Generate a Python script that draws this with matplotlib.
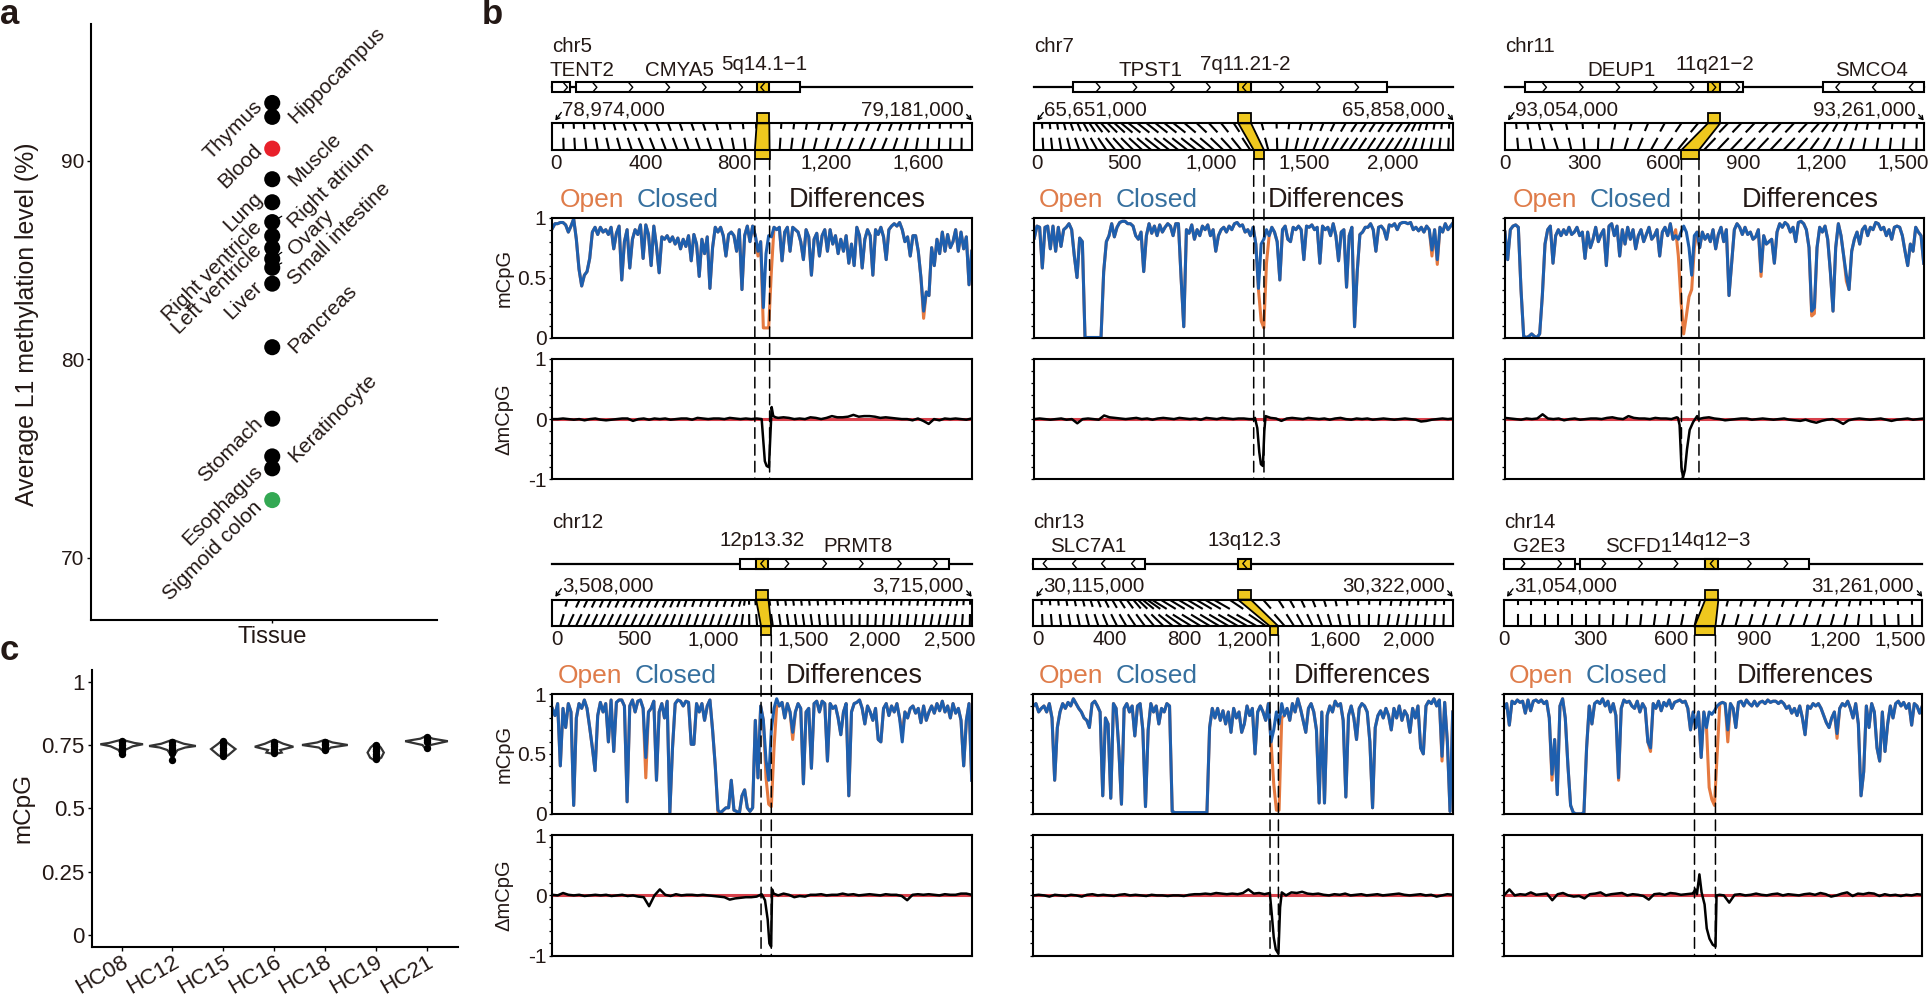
import numpy as np
import matplotlib
matplotlib.use("Agg")
import matplotlib.pyplot as plt
from matplotlib.patches import Polygon, Rectangle, ConnectionPatch
from matplotlib.transforms import ScaledTranslation

plt.rcParams['font.family'] = ['Liberation Sans', 'DejaVu Sans']

W, H = 1928, 999
SPAN_KB = 207
ORANGE = '#E5793F'
BLUE = '#1E5FAE'
YELLOW = '#EFC81E'
TEXT = '#231815'

# ---- panel a
tissues = ['Thymus', 'Hippocampus', 'Blood', 'Muscle', 'Lung', 'Right atrium', 'Right ventricle',
           'Left ventricle', 'Ovary', 'Small intestine', 'Liver', 'Pancreas', 'Stomach',
           'Keratinocyte', 'Esophagus', 'Sigmoid colon']
tissue_l1 = [92.9, 92.2, 90.6, 89.06, 87.9, 86.9, 86.2, 85.6, 85.05, 84.6, 83.8, 80.6, 77.0, 75.1, 74.5, 72.9]
tissue_color = ['k', 'k', '#E8202A', 'k', 'k', 'k', 'k', 'k', 'k', 'k', 'k', 'k', 'k', 'k', 'k', '#33A853']
tissue_side = ['l', 'r', 'l', 'r', 'l', 'r', 'l', 'l', 'r', 'r', 'l', 'r', 'l', 'r', 'l', 'l']
tissue_dy = [-1, -3.4, 1.7, -3.8, 7, -3.6, 11.6, 0.5, 6.6, -14, 0, -3, -2, -3, 0, -4]
tissue_leader = ['Right atrium', 'Right ventricle', 'Left ventricle', 'Ovary', 'Small intestine']

# ---- panel c
hc_names = ['HC08', 'HC12', 'HC15', 'HC16', 'HC18', 'HC19', 'HC21']
hc_y = [[.715, .73, .745, .753, .758, .77],
        [.69, .71, .73, .74, .746, .755, .77],
        [.70, .71, .734, .755, .77],
        [.715, .72, .73, .743, .755, .77],
        [.725, .74, .75, .76, .77],
        [.69, .70, .72, .74, .755],
        [.735, .75, .765, .775, .785]]
hc_w = [[.02, .06, .22, .42, .25, .02],
        [.01, .03, .1, .25, .46, .22, .01],
        [.01, .1, .24, .1, .01],
        [.02, .15, .12, .38, .18, .01],
        [.02, .12, .45, .15, .01],
        [.03, .11, .16, .10, .02],
        [.02, .08, .42, .12, .01]]
hc_pts = [[.715, .725, .735, .74, .75, .76, .765],
          [.69, .72, .73, .74, .75, .76],
          [.705, .72, .73, .74, .75, .76, .765],
          [.718, .725, .735, .745, .755, .76],
          [.73, .74, .75, .755, .76],
          [.695, .705, .715, .725, .735, .745, .75],
          [.74, .76, .77, .78]]

# ---- panel b, chr5
chr5_closed = [.91,.95,.95,.96,.96,.94,.88,.93,.99,.82,.57,.43,.52,.55,.66,.88,.92,.86,.92,.88,.90,.86,.92,.74,.87,.93,
               .48,.80,.90,.58,.82,.90,.86,.94,.66,.94,.86,.60,.93,.76,.54,.84,.82,.85,.80,.84,.78,.83,.74,.82,.76,.85,
               .64,.86,.78,.51,.82,.70,.84,.41,.75,.92,.88,.92,.85,.68,.86,.88,.85,.72,.90,.40,.85,.93,.80,.93,.85,.72,
               .80,.25,.70,.85,.84,.92,.90,.92,.64,.88,.92,.72,.92,.90,.88,.80,.65,.90,.84,.52,.82,.87,.68,.85,.90,.72,
               .90,.78,.85,.70,.82,.72,.85,.62,.78,.60,.92,.85,.58,.82,.90,.85,.52,.90,.86,.92,.84,.65,.90,.93,.95,.93,
               .96,.90,.80,.84,.68,.85,.85,.72,.50,.22,.38,.35,.75,.60,.82,.70,.88,.72,.86,.75,.80,.90,.72,.88,.74,.84,.44,.72]
chr5_open_idx = [77, 79, 80, 81, 82, 139]
chr5_open_val = [.68, .08, .08, .08, .55, .16]
chr5_delta = [0,0,.01,0,-.01,0,-.02,0,.01,-.01,-.02,-.01,0,.01,.01,-.03,0,.01,-.01,.01,0,.01,-.01,0,.01,.01,-.01,.02,.01,0,
              .01,.01,0,.02,.01,0,.01,0,.01,.02,0,0,.02,.03,.02,0,.01,0,.03,.02,0,.02,.05,.03,.03,.04,.07,.04,.05,.05,.04,
              .02,.03,.02,.01,0,0,-.02,.01,-.03,-.08,0,-.02,.01,0,.01,0,-.01,.01]
chr5_dip_x = [921, 928, 935, 943, 953, 959, 965, 972, 982]
chr5_dip_y = [0, -.35, -.7, -.78, -.8, -.3, .2, .05, .03]

# chr7
chr7_closed = [.83,.93,.92,.58,.92,.93,.74,.93,.72,.92,.76,.90,.92,.95,.90,.68,.50,.83,.80,0,0,0,0,0,0,0,.55,.80,.85,.95,.84,
               .92,.96,.97,.97,.95,.95,.93,.85,.82,.88,.55,.85,.95,.87,.93,.85,.94,.88,.92,.95,.93,.85,.95,.95,.50,.09,.90,
               .87,.94,.82,.90,.85,.93,.90,.94,.85,.90,.72,.85,.90,.92,.88,.93,.90,.95,.96,.93,.94,.88,.90,.85,.92,.78,.41,
               .78,.82,.90,.85,.92,.88,.80,.48,.90,.93,.82,.80,.92,.90,.93,.90,.65,.93,.92,.94,.90,.92,.62,.93,.90,.92,.85,
               .95,.85,.64,.88,.90,.42,.85,.92,.09,.55,.86,.88,.92,.92,.95,.90,.72,.92,.93,.90,.82,.94,.93,.95,.90,.95,.96,
               .96,.95,.96,.90,.92,.89,.92,.88,.93,.90,.73,.90,.65,.92,.88,.95,.90,.93,.96]
chr7_open_idx = [84, 85, 86, 87, 88, 149, 151]
chr7_open_val = [.40, .14, .08, .62, .85, .68, .61]
chr7_delta = [0,.01,0,-.01,0,.01,-.01,0,-.07,0,.01,0,-.01,.06,.03,.02,.01,0,.01,.02,0,.01,-.01,.01,.02,.01,0,.02,.01,0,.01,
              -.01,.02,.01,0,.02,.01,0,.01,.01,0,0,0,.03,.02,.01,-.03,.01,.02,.01,0,.02,.01,0,.01,-.01,.01,.02,0,-.01,.01,
              0,.01,-.01,0,.01,0,-.01,0,.01,0,-.01,-.04,-.03,-.01,0,.01,0,.01]
chr7_dip_x = [1226, 1239, 1250, 1259, 1270, 1278, 1285]
chr7_dip_y = [.02, -.15, -.55, -.75, -.78, -.2, .05]

# chr11
chr11_closed = [.88,.65,.90,.93,.94,.92,.40,.01,0,.01,.03,.01,0,.03,.35,.78,.90,.93,.62,.85,.90,.85,.90,.86,.92,.86,.88,.92,
                .85,.88,.66,.88,.75,.82,.92,.80,.86,.90,.60,.93,.95,.85,.93,.68,.90,.78,.92,.82,.90,.74,.85,.90,.80,.86,
                .92,.82,.85,.90,.68,.88,.92,.85,.95,.82,.85,.82,.88,.93,.88,.75,.52,.85,.88,.75,.88,.82,.86,.80,.90,.74,
                .86,.92,.80,.90,.35,.62,.90,.95,.92,.86,.92,.86,.88,.82,.84,.90,.55,.85,.78,.80,.82,.62,.88,.95,.92,.96,
                .94,.88,.92,.80,.96,.97,.95,.90,.75,.22,.25,.75,.92,.88,.93,.82,.55,.22,.75,.95,.85,.68,.52,.40,.72,.82,
                .88,.78,.90,.93,.85,.92,.90,.96,.95,.90,.92,.85,.90,.82,.92,.93,.92,.85,.72,.60,.78,.72,.92,.88,.85,.62]
chr11_open_idx = [64, 65, 66, 67, 68, 69, 70, 71, 96, 115, 116, 128]
chr11_open_val = [.90, .68, .30, .03, .18, .34, .40, .75, .51, .18, .20, .47]
chr11_delta = [.02,.01,0,-.01,.01,0,.01,.08,.01,0,.01,-.02,0,.01,-.01,0,.01,.01,0,.02,.03,.01,0,.05,.02,.01,.01,0,.02,.01,
               .01,0,.03,0,0,0,0,.02,.03,.01,0,-.02,-.01,0,.01,.01,-.01,0,.01,0,-.01,0,.01,-.01,-.02,-.03,-.01,-.04,-.06,
               -.03,-.01,0,-.03,-.08,-.02,0,.01,0,-.01,0,.01,-.01,-.03,-.01,0,.01,-.01,0,.01]
chr11_dip_x = [652, 658, 665, 671, 678, 686, 696, 709, 724]
chr11_dip_y = [.02, -.1, -.8, -.97, -.85, -.5, -.18, -.05, .05]

# chr12
chr12_closed = [.88,.82,.92,.40,.88,.72,.92,.85,.07,.80,.92,.88,.95,.88,.72,.55,.36,.82,.93,.85,.92,.60,.95,.52,.93,.95,.95,
                .90,.10,.90,.95,.85,.94,.95,.88,.47,.85,.88,.94,.28,.85,.92,.80,.94,.01,.55,.92,.95,.94,.90,.94,.93,.58,
                .58,.92,.85,.92,.78,.90,.95,.70,.40,.03,.01,.03,.05,.05,.28,.03,.02,0,.15,.20,.05,.02,.05,.78,.30,.90,.78,
                .45,.28,.70,.88,.96,.90,.93,.80,.92,.85,.68,.85,.92,.88,.25,.85,.88,.38,.92,.94,.85,.94,.92,.44,.92,.88,
                .90,.80,.66,.85,.92,.15,.85,.92,.93,.95,.88,.75,.90,.85,.78,.88,.62,.60,.88,.92,.82,.90,.85,.92,.80,.60,
                .85,.80,.88,.90,.84,.88,.76,.90,.78,.85,.90,.84,.92,.86,.94,.85,.90,.80,.92,.84,.88,.78,.40,.78,.92,.28]
chr12_open_idx = [35, 62, 63, 80, 81, 82, 83, 84, 90, 131]
chr12_open_val = [.30, .01, 0, .30, .08, .06, .55, .90, .62, .68]
chr12_delta = [.01,0,.04,.01,0,.01,-.01,0,.01,0,.01,-.01,0,.01,-.01,0,-.02,-.03,-.18,0,.1,.01,-.01,.02,0,.01,.01,0,.01,0,
               -.01,-.02,-.03,-.07,-.05,-.04,-.03,-.03,-.02,.02,0,0,0,.03,.01,-.03,-.01,-.02,.01,.01,.02,0,.01,.01,.03,.01,
               .02,0,.01,.02,.01,0,.02,.01,.01,-.01,-.08,.01,.02,.01,.02,.01,0,.02,.01,.01,.03,.03,.01]
chr12_dip_x = [1329, 1350, 1367, 1378, 1389, 1395, 1405]
chr12_dip_y = [.02, -.08, -.4, -.8, -.85, .1, .03]

# chr13
chr13_closed = [.90,.92,.85,.88,.90,.85,.92,.80,.28,.72,.85,.92,.88,.93,.90,.96,.92,.88,.85,.80,.78,.72,.92,.94,.90,.85,.15,
                .80,.75,.13,.92,.88,.55,.08,.88,.92,.85,.90,.65,.90,.92,.70,.06,.70,.92,.85,.90,.75,.88,.85,.92,.90,.02,
                .01,.01,.01,.01,.01,.01,.01,.01,.01,.01,.01,.01,.01,.72,.88,.80,.88,.78,.86,.75,.85,.68,.88,.80,.85,.68,.75,
                .90,.82,.88,.50,.85,.90,.85,.78,.92,.60,.70,.85,.75,.92,.82,.88,.78,.92,.85,.96,.88,.78,.68,.88,.92,.85,.70,
                .09,.85,.09,.82,.90,.85,.94,.90,.92,.78,.14,.82,.90,.80,.62,.88,.92,.90,.85,.60,.05,.72,.82,.86,.80,.88,.82,
                .70,.88,.80,.90,.78,.86,.82,.68,.88,.80,.90,.55,.50,.90,.94,.92,.96,.90,.95,.48,.93,.60,.02,.85]
chr13_open_idx = [90, 91, 92, 93, 153]
chr13_open_val = [.25, .03, .03, .80, .44]
chr13_delta = [0,.01,0,-.02,.01,0,-.01,.01,0,-.02,.01,.02,0,.01,0,-.01,.01,.02,0,.01,0,-.01,.01,0,0,-.01,0,0,-.01,.01,.02,.02,
               .03,.02,.04,.03,.02,.03,.02,.04,.1,.03,.04,.02,.04,.03,0,0,.05,.04,.06,.03,.02,.03,.01,0,.02,.01,.03,0,.01,
               .02,0,.01,.02,0,.01,.02,.03,.01,0,.01,.02,0,.01,-.02,0,.02,.01]
chr13_dip_x = [1270, 1279, 1290, 1301, 1315, 1324, 1333]
chr13_dip_y = [0, -.3, -.7, -.9, -.97, -.2, .05]

# chr14
chr14_closed = [.88,.92,.74,.94,.92,.95,.93,.94,.84,.95,.86,.94,.95,.93,.95,.92,.94,.80,.33,.62,.16,.90,.96,.80,.40,.07,.01,0,
                0,0,.01,.55,.90,.75,.92,.94,.92,.96,.90,.94,.85,.92,.82,.30,.88,.95,.93,.94,.90,.88,.94,.85,.92,.88,.60,.55,
                .92,.88,.94,.86,.93,.90,.95,.88,.93,.94,.95,.93,.94,.88,.70,.85,.72,.85,.47,.85,.72,.85,.83,.86,.90,.92,.93,
                .92,.70,.92,.88,.72,.93,.94,.90,.95,.92,.90,.94,.90,.93,.94,.92,.95,.93,.94,.94,.92,.94,.92,.88,.90,.84,.88,
                .82,.90,.80,.66,.90,.88,.92,.90,.92,.88,.82,.76,.72,.80,.85,.67,.88,.92,.90,.94,.88,.80,.92,.75,.15,.35,.90,
                .72,.92,.85,.55,.44,.85,.52,.75,.90,.80,.92,.94,.90,.93,.88,.92,.74,.92,.90,.84,.90]
chr14_open_idx = [18, 43, 55, 77, 78, 79, 80, 84, 125]
chr14_open_val = [.28, .28, .52, .22, .12, .07, .5, .60, .63]
chr14_delta = [0,.1,0,.02,.01,.05,.01,.02,.03,-.08,.02,.04,0,-.02,-.01,-.05,.02,.03,.05,0,.02,.03,.04,0,.02,.01,-.01,-.07,.02,
               .03,.01,.04,.03,.01,.02,.03,0,0,0,0,0,0,-.12,.01,.02,0,.01,.03,.01,0,.02,.03,0,.02,.01,0,.02,.03,.01,.04,.02,
               -.02,0,.03,.05,-.01,.03,.02,.04,.03,-.01,.02,0,.01,-.01,.01,0,.02,.01]
chr14_dip_x = [694, 703, 709, 718, 726, 737, 745, 755, 767, 777, 781, 792]
chr14_dip_y = [.03, .1, .02, .35, .05, -.15, -.55, -.72, -.82, -.85, 0, .01]


def panel(**kw):
    return kw


panels = [
    panel(chrom='chr5', box=(552.3, 217.7), right=971.7, row=0, length=1845,
          start='78,974,000', end='79,181,000',
          genes=[('TENT2', 0, 8.9, 14.5), ('CMYA5', 11.7, 122.3, 62.6)],
          chev_r=[6.6, 21.1, 38.8, 57, 75, 93], chev_l=[103.8],
          locus=(100.9, 107.1), locus_name='5q14.1\u22121', locus_x=104.6, bottom_box=(891, 956),
          map_ticks=['0', '400', '800', '1,200', '1,600'], map_label_x=[16, 411, 799, 1204, 1610],
          link_x=[0, 114, 408, 701, 921, 994, 1287, 1463, 1654, 1845], link_shift=[0, -7, -44, -37, 0, 7, 44, 44, 7, 0],
          closed=chr5_closed, open_idx=chr5_open_idx, open_val=chr5_open_val, delta=chr5_delta,
          dip_x=chr5_dip_x, dip_y=chr5_dip_y, head_dx=(7.7, 84.3, 236)),
    panel(chrom='chr7', box=(1034.3, 217.7), right=1453.3, row=0, length=2328,
          start='65,651,000', end='65,858,000',
          genes=[('TPST1', 19.3, 174.4, 57.2)],
          chev_r=[31.6, 49.7, 68.2, 86, 122.2, 140.3, 159.3], chev_l=[103.8],
          locus=(100.8, 107.1), locus_name='7q11.21-2', locus_x=104.1, bottom_box=(1219, 1276),
          map_ticks=['0', '500', '1,000', '1,500', '2,000'], map_label_x=[17, 498, 981, 1498, 1994],
          link_x=[0, 133, 319, 504, 689, 967, 1152, 1244, 1356, 1430, 1707, 1985, 2133, 2328],
          link_shift=[0, -19, -65, -130, -176, -176, -111, -74, 0, 28, 93, 93, 37, 0],
          closed=chr7_closed, open_idx=chr7_open_idx, open_val=chr7_open_val, delta=chr7_delta,
          dip_x=chr7_dip_x, dip_y=chr7_dip_y, head_dx=(4.7, 81.3, 233)),
    panel(chrom='chr11', box=(1505, 217.7), right=1923.7, row=0, length=1578,
          start='93,054,000', end='93,261,000',
          genes=[('DEUP1', 9.9, 117.6, 57.5), ('SMCO4', 157.4, 207, 181.3)],
          chev_r=[19.6, 37.7, 55.8, 74.3, 92.4, 103.3, 115.1], chev_l=[164.5, 182.6, 200.8],
          locus=(100.3, 106.4), locus_name='11q21\u22122', locus_x=103.6, bottom_box=(665, 731),
          map_ticks=['0', '300', '600', '900', '1,200', '1,500'], map_label_x=[0, 300, 598, 897, 1192, 1500],
          link_x=[0, 80, 206, 332, 520, 698, 897, 1085, 1211, 1337, 1578],
          link_shift=[0, -13, -31, 0, 44, 90, 90, 88, 50, 19, 0],
          closed=chr11_closed, open_idx=chr11_open_idx, open_val=chr11_open_val, delta=chr11_delta,
          dip_x=chr11_dip_x, dip_y=chr11_dip_y, head_dx=(8, 84.7, 236.3)),
    panel(chrom='chr12', box=(552.3, 694), right=971.7, row=1, length=2662,
          start='3,508,000', end='3,715,000',
          genes=[('PRMT8', 92.7, 195.7, 150.9)],
          chev_r=[115.8, 134.4, 152.5, 171.3, 189], chev_l=[103.8],
          locus=(100.6, 106.7), locus_name='12p13.32', locus_x=103.4, bottom_box=(1325, 1390),
          map_ticks=['0', '500', '1,000', '1,500', '2,000', '2,500'], map_label_x=[28, 521, 1022, 1594, 2049, 2521],
          link_x=[0, 80, 673, 800, 1139, 1244, 1354, 1647, 2070, 2493, 2662],
          link_shift=[0, 74, 74, 53, 53, 0, -23, -21, 11, 32, 0],
          closed=chr12_closed, open_idx=chr12_open_idx, open_val=chr12_open_val, delta=chr12_delta,
          dip_x=chr12_dip_x, dip_y=chr12_dip_y, head_dx=(5, 82, 233.3)),
    panel(chrom='chr13', box=(1033.3, 694), right=1452.7, row=1, length=2250,
          start='30,115,000', end='30,322,000',
          genes=[('SLC7A1', 0, 55.2, 27.2)],
          chev_r=[], chev_l=[5.8, 20.3, 34.6, 49.4, 104.3],
          locus=(101, 107.4), locus_name='13q12.3', locus_x=104, bottom_box=(1270, 1315),
          map_ticks=['0', '400', '800', '1,200', '1,600', '2,000'], map_label_x=[23, 411, 810, 1118, 1619, 2013],
          link_x=[0, 313, 635, 850, 1207, 1293, 1386, 1744, 1923, 2250],
          link_shift=[0, -36, -107, -215, -233, -163, -89, -9, 27, 0],
          closed=chr13_closed, open_idx=chr13_open_idx, open_val=chr13_open_val, delta=chr13_delta,
          dip_x=chr13_dip_x, dip_y=chr13_dip_y, head_dx=(5.7, 82.3, 260)),
    panel(chrom='chr14', box=(1504, 694), right=1922.3, row=1, length=1537,
          start='31,054,000', end='31,261,000',
          genes=[('G2E3', 0, 35.1, 17.3), ('SCFD1', 37.4, 151, 66.5)],
          chev_r=[9.4, 27.5, 49.4, 67.5, 85.1, 121.4, 139.5], chev_l=[103],
          locus=(99.6, 106.1), locus_name='14q12\u22123', locus_x=102.5, bottom_box=(700, 777),
          map_ticks=['0', '300', '600', '900', '1,200', '1,500'], map_label_x=[0, 318, 614, 918, 1218, 1455],
          link_x=[0, 327, 645, 741, 816, 1061, 1245, 1367, 1537],
          link_shift=[0, 0, 18, 23, 24, 31, 24, -6, 0],
          closed=chr14_closed, open_idx=chr14_open_idx, open_val=chr14_open_val, delta=chr14_delta,
          dip_x=chr14_dip_x, dip_y=chr14_dip_y, head_dx=(4.7, 81.7, 233)),
]

fig = plt.figure(figsize=(W / 100, H / 100), dpi=100)


def px_axes(x0, y0, x1, y1):
    return fig.add_axes([x0 / W, 1 - y1 / H, (x1 - x0) / W, (y1 - y0) / H])


def px_text(x, y, s, **kw):
    kw.setdefault('color', TEXT)
    fig.text(x / W, 1 - y / H, s, **kw)


# panel letters
px_text(0, 15, 'a', fontsize=25, fontweight='bold', ha='left', va='center')
px_text(482, 15, 'b', fontsize=25, fontweight='bold', ha='left', va='center')
px_text(0, 651, 'c', fontsize=25, fontweight='bold', ha='left', va='center')

# ---- panel a
ax = px_axes(91, 23.7, 437, 620)
ax.set_xlim(-1.1, 1.0)
ax.set_ylim(70 - (620 - 557.7) / 19.85, 90 + (160.5 - 23.7) / 19.85)
for side in ['top', 'right']:
    ax.spines[side].set_visible(False)
for side in ['left', 'bottom']:
    ax.spines[side].set_linewidth(1.5)
ax.scatter([0] * len(tissues), tissue_l1, c=tissue_color, s=134, zorder=3, linewidths=0)
for name, val, side, dy in zip(tissues, tissue_l1, tissue_side, tissue_dy):
    dx = -13 if side == 'l' else 19
    props = dict(arrowstyle='-', lw=0.9, color='k', shrinkA=0, shrinkB=0) if name in tissue_leader else None
    ax.annotate(name, xy=(0, val), xytext=(dx, dy), textcoords='offset pixels', rotation=45,
                rotation_mode='anchor', ha='right' if side == 'l' else 'left', va='center',
                fontsize=15, color=TEXT, arrowprops=props, annotation_clip=False)
ax.set_yticks([70, 80, 90])
ax.set_xticks([0])
ax.set_xticklabels([''])
ax.tick_params(axis='y', labelsize=15, length=3, width=1, pad=2, labelcolor=TEXT)
ax.tick_params(axis='x', length=2, width=1)
px_text(272, 637, 'Tissue', fontsize=17.3, ha='center', va='center')
px_text(27, 324, 'Average L1 methylation level (%)', fontsize=17.9, rotation=90, ha='center', va='center')

# ---- panel c
ax = px_axes(91.7, 670, 458, 947.3)
ax.set_xlim(0.41, 7.62)
ax.set_ylim(-0.0486, 1.046)
for side in ['top', 'right']:
    ax.spines[side].set_visible(False)
for side in ['left', 'bottom']:
    ax.spines[side].set_linewidth(1.5)
for i, (ys, ws, pts) in enumerate(zip(hc_y, hc_w, hc_pts)):
    pos = i + 1
    ys = np.array(ys)
    ws = np.array(ws)
    ax.fill(np.r_[pos - ws, (pos + ws)[::-1]], np.r_[ys, ys[::-1]], facecolor='none', edgecolor='#333333', lw=1.6)
    ax.scatter([pos] * len(pts), pts, s=28, c='k', zorder=3, linewidths=0)
ax.set_xticks(range(1, 8))
ax.set_xticklabels(hc_names, rotation=30, ha='right', rotation_mode='anchor', fontsize=16, color=TEXT)
for lab in ax.get_xticklabels():
    lab.set_transform(lab.get_transform() + ScaledTranslation(.09, 0, fig.dpi_scale_trans))
ax.set_yticks([0, .25, .5, .75, 1])
ax.set_yticklabels(['0', '0.25', '0.5', '0.75', '1'])
ax.tick_params(axis='y', labelsize=16, length=3, width=1, pad=2, labelcolor=TEXT)
ax.tick_params(axis='x', length=3, width=1, pad=0)
px_text(23, 808, 'mCpG', fontsize=17.5, rotation=90, ha='center', va='center')

# ---- panel b
for p in panels:
    left, mc_top = p['box']
    right = p['right']
    dy = 476.3 * p['row']
    L = p['length']

    # gene track
    ax_g = px_axes(left, 82.3 + dy, right, 92.3 + dy)
    ax_g.set_xlim(0, SPAN_KB)
    ax_g.set_ylim(0, 1)
    ax_g.axis('off')
    ax_g.plot([0, SPAN_KB], [.5, .5], color='k', lw=1.6, clip_on=False, zorder=1)
    for name, g0, g1, lx in p['genes']:
        ax_g.add_patch(Rectangle((g0, 0), g1 - g0, 1, fc='white', ec='k', lw=1.5, clip_on=False, zorder=2))
        ax_g.text(lx, 2.16, name, fontsize=14.8, ha='center', va='center', color=TEXT, clip_on=False)
    l0, l1 = p['locus']
    ax_g.add_patch(Rectangle((l0, 0), l1 - l0, 1, fc=YELLOW, ec='k', lw=1.5, clip_on=False, zorder=3))
    ax_g.text(p['locus_x'], 2.76, p['locus_name'], fontsize=14.8, ha='center', va='center', color=TEXT)
    for c in p['chev_r']:
        ax_g.plot([c - .9, c + .9, c - .9], [.08, .5, .92], color='k', lw=1, zorder=4, clip_on=False)
    for c in p['chev_l']:
        ax_g.plot([c + .9, c - .9, c + .9], [.08, .5, .92], color='k', lw=1, zorder=4, clip_on=False)
    ax_g.text(0, 4.56, p['chrom'], fontsize=14.8, ha='left', va='center', color=TEXT)

    # map between reference and assembly
    ax_m = px_axes(left, 123.3 + dy, right, 150 + dy)
    ax_m.set_xlim(0, L)
    ax_m.set_ylim(0, 1)
    ax_m.set_xticks([])
    ax_m.set_yticks([])
    for s in ax_m.spines.values():
        s.set_linewidth(1.5)
    grid = np.arange(50, L, 50)
    shift = np.interp(grid, p['link_x'], p['link_shift'])
    bp_px = (right - left) / L
    for b, sh in zip(grid, shift):
        lean = sh * .45
        ax_m.plot([b, b + lean], [0, .42], color='k', lw=1.5, zorder=1)
        # the upper stub grows with the lean of the link
        seg = np.hypot(lean * bp_px, 11.2)
        f = (4 + abs(lean) * bp_px * .7) / seg
        ax_m.plot([b + sh, b + sh - f * lean], [1, 1 - f * .42], color='k', lw=1.5, zorder=1)
    t0, t1 = l0 * L / SPAN_KB, l1 * L / SPAN_KB
    b0, b1 = p['bottom_box']
    tr = ax_m.get_xaxis_transform()
    for verts in ([(t0, 1), (t1, 1), (t1, 1.37), (t0, 1.37)],
                  [(b0, 0), (b1, 0), (b1, -.33), (b0, -.33)],
                  [(t0, 1), (t1, 1), (b1, 0), (b0, 0)]):
        ax_m.add_patch(Polygon(verts, closed=True, fc=YELLOW, ec='k', lw=1.3, transform=tr, clip_on=False, zorder=2))
    for lab, lx in zip(p['map_ticks'], p['map_label_x']):
        px_text(left + lx / L * (right - left), 163.3 + dy, lab, fontsize=14.8, ha='center', va='center')

    # coordinates and end arrows
    px_text(left + 10, 110 + dy, p['start'], fontsize=14.8, ha='left', va='center')
    px_text(right - 8, 110 + dy, p['end'], fontsize=14.8, ha='right', va='center')
    y_tip = H - (120.5 + dy)
    arrow = dict(arrowstyle='->,head_length=0.25,head_width=0.15', lw=1, color='k', shrinkA=0, shrinkB=0)
    fig.add_artist(plt.Annotation('', xy=(left + 3, y_tip), xytext=(left + 9, y_tip + 8),
                                  xycoords='figure pixels', textcoords='figure pixels', arrowprops=arrow))
    fig.add_artist(plt.Annotation('', xy=(right, y_tip), xytext=(right - 5, y_tip + 6),
                                  xycoords='figure pixels', textcoords='figure pixels', arrowprops=arrow))

    # headings
    hx = p['head_dx']
    px_text(left + hx[0], 200 + dy, 'Open', fontsize=19, color='#DF7C4A', ha='left', va='center')
    px_text(left + hx[1], 200 + dy, 'Closed', fontsize=19, color='#36709F', ha='left', va='center')
    px_text(left + hx[2], 200 + dy, 'Differences', fontsize=19.5, ha='left', va='center')

    # mCpG
    ax_c = px_axes(left, mc_top, right, mc_top + 119.8)
    closed = np.array(p['closed'], dtype=float)
    opened = closed.copy()
    opened[p['open_idx']] = p['open_val']
    xs = np.linspace(0, L, len(closed))
    ax_c.plot(xs, opened, color=ORANGE, lw=2.2, solid_joinstyle='round')
    ax_c.plot(xs, closed, color=BLUE, lw=2.2, solid_joinstyle='round')
    ax_c.set_xlim(0, L)
    ax_c.set_ylim(0, 1)
    ax_c.set_xticks([])
    ax_c.set_yticks([0, .5, 1])
    ax_c.set_yticks(np.arange(0, 1.01, .1), minor=True)

    # difference
    ax_d = px_axes(left, mc_top + 141.3, right, mc_top + 261.5)
    base = np.array(p['delta'], dtype=float)
    bx = np.linspace(0, L, len(base))
    keep = (bx < p['dip_x'][0]) | (bx > p['dip_x'][-1])
    dx_all = np.r_[bx[keep], p['dip_x']]
    dy_all = np.r_[base[keep], p['dip_y']]
    order = np.argsort(dx_all)
    ax_d.axhline(0, color='#D8414B', lw=2.2, zorder=1)
    ax_d.plot(dx_all[order], dy_all[order], color='k', lw=1.8, zorder=2)
    ax_d.set_xlim(0, L)
    ax_d.set_ylim(-1, 1)
    ax_d.set_xticks([])
    ax_d.set_yticks([-1, 0, 1])
    ax_d.set_yticks(np.arange(-1, 1.01, .2), minor=True)

    first_col = left < 600
    for a, labels in ((ax_c, ['0', '0.5', '1']), (ax_d, ['-1', '0', '1'])):
        for s in a.spines.values():
            s.set_linewidth(1.5)
        a.tick_params(axis='y', which='both', length=2.2, width=0.9, pad=2, labelsize=15, labelcolor=TEXT,
                      labelleft=first_col)
        if first_col:
            a.set_yticklabels(labels)
    if first_col:
        px_text(504, mc_top + 59.9, 'mCpG', fontsize=14.5, rotation=90, ha='center', va='center')
        px_text(504, mc_top + 201.4, '\u0394mCpG', fontsize=14.5, rotation=90, ha='center', va='center')

    # dashed guides through the tracks
    for x in p['bottom_box']:
        fig.add_artist(ConnectionPatch(xyA=(x, -.33), coordsA=ax_m.get_xaxis_transform(),
                                       xyB=(x, 0), coordsB=ax_d.get_xaxis_transform(),
                                       color='k', lw=1.1, linestyle=(0, (7, 4)), zorder=5))

fig.savefig('out.png', dpi=100)
